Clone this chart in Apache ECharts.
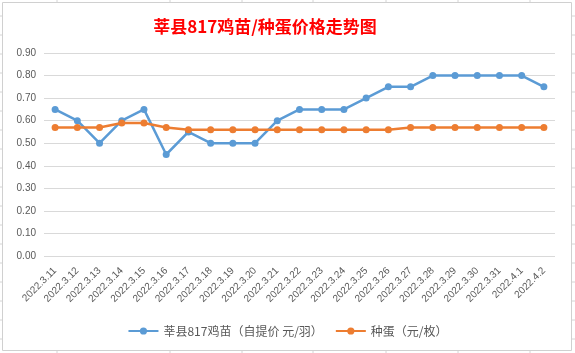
<!DOCTYPE html>
<html>
<head>
<meta charset="utf-8">
<script src="https://cdn.jsdelivr.net/npm/echarts@6/dist/echarts.min.js"></script>
<style>
html, body { margin: 0; padding: 0; background: #fff; }
#chart { width: 575px; height: 353px; }
</style>
</head>
<body>
<div id="chart"></div>
<script>
var dates = ['2022.3.11', '2022.3.12', '2022.3.13', '2022.3.14', '2022.3.15', '2022.3.16',
    '2022.3.17', '2022.3.18', '2022.3.19', '2022.3.20', '2022.3.21', '2022.3.22',
    '2022.3.23', '2022.3.24', '2022.3.25', '2022.3.26', '2022.3.27', '2022.3.28',
    '2022.3.29', '2022.3.30', '2022.3.31', '2022.4.1', '2022.4.2'];
var chickPrice = [0.65, 0.60, 0.50, 0.60, 0.65, 0.45, 0.55, 0.50, 0.50, 0.50, 0.60, 0.65,
    0.65, 0.65, 0.70, 0.75, 0.75, 0.80, 0.80, 0.80, 0.80, 0.80, 0.75];
var eggPrice = [0.57, 0.57, 0.57, 0.59, 0.59, 0.57, 0.56, 0.56, 0.56, 0.56, 0.56, 0.56,
    0.56, 0.56, 0.56, 0.56, 0.57, 0.57, 0.57, 0.57, 0.57, 0.57, 0.57];
var seriesNames = ['莘县817鸡苗（自提价 元/羽）', '种蛋（元/枚）'];

// spreadsheet cell lines peeking out around the chart box
var sheetLines = [];
var rowYs = [16, 35, 54, 73, 92, 111, 130, 149, 168, 187, 206, 225, 244, 263, 282, 301, 320, 339];
rowYs.forEach(function(y) {
    sheetLines.push({ type: 'line', shape: { x1: 0, y1: y, x2: 2, y2: y }, style: { stroke: '#d4d4d4', lineWidth: 1 } });
    sheetLines.push({ type: 'line', shape: { x1: 572, y1: y, x2: 575, y2: y }, style: { stroke: '#d4d4d4', lineWidth: 1 } });
});
[57, 170, 242, 313, 386, 458, 530].forEach(function(x) {
    sheetLines.push({ type: 'line', shape: { x1: x, y1: 0, x2: x, y2: 2 }, style: { stroke: '#d4d4d4', lineWidth: 1 } });
    sheetLines.push({ type: 'line', shape: { x1: x, y1: 351, x2: x, y2: 353 }, style: { stroke: '#d4d4d4', lineWidth: 1 } });
});
sheetLines.push({
    type: 'rect',
    shape: { x: 2.5, y: 2.5, width: 569, height: 348 },
    style: { fill: 'none', stroke: '#d0d0d0', lineWidth: 1 },
    z: 0
});

var ec = echarts.init(document.getElementById('chart'));
ec.setOption({
    backgroundColor: '#fff',
    animation: false,
    textStyle: { fontFamily: 'Noto Sans CJK SC' },
    title: {
        text: '莘县817鸡苗/种蛋价格走势图',
        left: 260,
        top: 13,
        textAlign: 'center',
        textStyle: {
            color: '#ff0000',
            fontSize: 17,
            fontWeight: 'bold',
            fontFamily: 'Noto Sans CJK SC'
        }
    },
    graphic: sheetLines,
    grid: {
        left: 44,
        right: 20,
        top: 53,
        bottom: 97
    },
    legend: {
        bottom: 11,
        left: 'center',
        itemWidth: 30,
        itemHeight: 9,
        itemGap: 12,
        textStyle: {
            color: '#595959',
            fontSize: 12,
            fontFamily: 'Noto Sans CJK SC'
        },
        data: seriesNames
    },
    xAxis: {
        type: 'category',
        data: dates,
        boundaryGap: true,
        axisLine: { show: false },
        axisTick: { show: false },
        axisLabel: {
            rotate: 45,
            interval: 0,
            margin: 13,
            color: '#595959',
            fontSize: 10,
            fontFamily: 'Liberation Sans'
        }
    },
    yAxis: {
        type: 'value',
        min: 0,
        max: 0.9,
        interval: 0.1,
        axisLine: { show: false },
        axisTick: { show: false },
        splitLine: {
            lineStyle: { color: '#d9d9d9', width: 1 }
        },
        axisLabel: {
            margin: 8,
            color: '#595959',
            fontSize: 10,
            fontFamily: 'Liberation Sans',
            formatter: function(v) { return v.toFixed(2); }
        }
    },
    series: [{
        name: seriesNames[0],
        type: 'line',
        data: chickPrice,
        symbol: 'circle',
        symbolSize: 7,
        color: '#5b9bd5',
        lineStyle: { width: 2.5, color: '#5b9bd5' },
        itemStyle: { color: '#5b9bd5' }
    }, {
        name: seriesNames[1],
        type: 'line',
        data: eggPrice,
        symbol: 'circle',
        symbolSize: 7,
        color: '#ed7d31',
        lineStyle: { width: 2.5, color: '#ed7d31' },
        itemStyle: { color: '#ed7d31' }
    }]
});
</script>
</body>
</html>
